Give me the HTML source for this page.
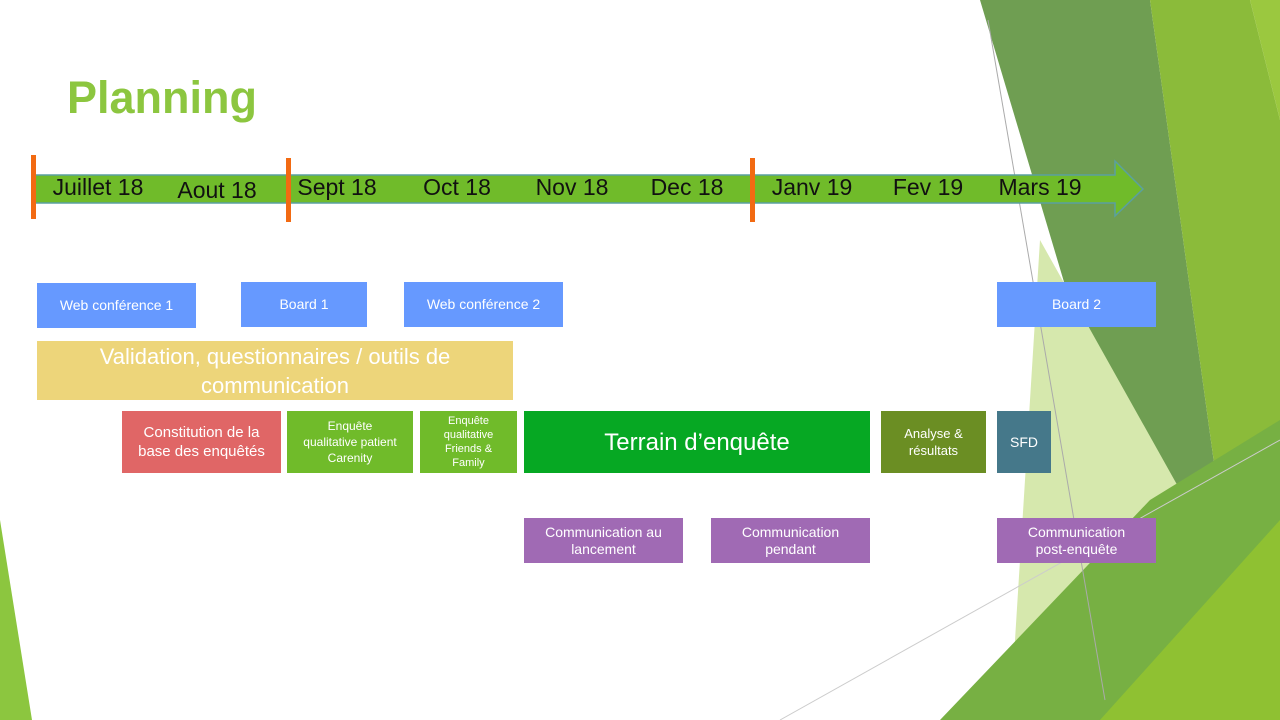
<!DOCTYPE html>
<html><head><meta charset="utf-8"><style>
body{margin:0;width:1280px;height:720px;overflow:hidden;background:#fff;position:relative;font-family:"Liberation Sans",sans-serif}
svg.bg{position:absolute;left:0;top:0}
.b{position:absolute;color:#fff;display:flex;align-items:center;justify-content:center;text-align:center;font-size:14px;line-height:17px}
.m{position:absolute;top:174px;font-family:"Liberation Sans Narrow","Liberation Sans",sans-serif;font-size:23px;color:#111;transform:translateX(-50%);white-space:nowrap}
</style></head><body>
<svg class="bg" width="1280" height="720">
<polygon points="980,0 1150,0 1215,470 1180,510 1120,470" fill="#6f9e52"/>
<polygon points="1150,0 1250,0 1280,120 1280,720 1200,720 1215,470" fill="#8bbb3a"/>
<polygon points="1250,0 1280,0 1280,120" fill="#9bc83f"/>
<polygon points="1040,240 1180,490 1060,600 980,720 1010,720" fill="#d6e8ad"/>
<polygon points="940,720 1150,500 1280,420 1280,720" fill="#77b043"/>
<polygon points="1100,720 1280,520 1280,720" fill="#8fc132"/>
<polygon points="0,520 32,720 0,720" fill="#8cc63f"/>
<line x1="988" y1="20" x2="1105" y2="700" stroke="#aaa" stroke-width="1"/>
<line x1="780" y1="720" x2="1280" y2="440" stroke="#ccc" stroke-width="1"/>
<polygon points="33,175 1115,175 1115,161 1143,189 1115,216 1115,203 33,203" fill="#70bb2a" stroke="#5aa0a0" stroke-width="1.5"/>
<rect x="31" y="155" width="5" height="64" fill="#f26a12"/>
<rect x="286" y="158" width="5" height="64" fill="#f26a12"/>
<rect x="750" y="158" width="5" height="64" fill="#f26a12"/>
</svg>
<div style="position:absolute;left:67px;top:72px;font-size:45px;font-weight:bold;color:#8cc63f">Planning</div>
<div class="m" style="left:98px">Juillet 18</div>
<div class="m" style="left:217px;top:177px">Aout 18</div>
<div class="m" style="left:337px">Sept 18</div>
<div class="m" style="left:457px">Oct 18</div>
<div class="m" style="left:572px">Nov 18</div>
<div class="m" style="left:687px">Dec 18</div>
<div class="m" style="left:812px">Janv 19</div>
<div class="m" style="left:928px">Fev 19</div>
<div class="m" style="left:1040px">Mars 19</div>

<div class="b" style="left:37px;top:283px;width:159px;height:45px;background:#6699ff">Web conférence 1</div>
<div class="b" style="left:241px;top:282px;width:126px;height:45px;background:#6699ff">Board 1</div>
<div class="b" style="left:404px;top:282px;width:159px;height:45px;background:#6699ff">Web conférence 2</div>
<div class="b" style="left:997px;top:282px;width:159px;height:45px;background:#6699ff">Board 2</div>
<div class="b" style="left:37px;top:341px;width:476px;height:59px;background:#edd57a;font-size:22px;line-height:29px">Validation, questionnaires / outils de<br>communication</div>
<div class="b" style="left:122px;top:411px;width:159px;height:62px;background:#e06666;font-size:15px;line-height:19px">Constitution de la<br>base des enquêtés</div>
<div class="b" style="left:287px;top:411px;width:126px;height:62px;background:#70bb2a;font-size:12px;line-height:16px">Enquête<br>qualitative patient<br>Carenity</div>
<div class="b" style="left:420px;top:411px;width:97px;height:62px;background:#70bb2a;font-size:11px;line-height:14px">Enquête<br>qualitative<br>Friends &amp;<br>Family</div>
<div class="b" style="left:524px;top:411px;width:346px;height:62px;background:#06a823;font-size:24px">Terrain d’enquête</div>
<div class="b" style="left:881px;top:411px;width:105px;height:62px;background:#6b8e23;font-size:13px;line-height:17px">Analyse &amp;<br>résultats</div>
<div class="b" style="left:997px;top:411px;width:54px;height:62px;background:#45788a">SFD</div>
<div class="b" style="left:524px;top:518px;width:159px;height:45px;background:#a06ab4">Communication au<br>lancement</div>
<div class="b" style="left:711px;top:518px;width:159px;height:45px;background:#a06ab4">Communication<br>pendant</div>
<div class="b" style="left:997px;top:518px;width:159px;height:45px;background:#a06ab4">Communication<br>post-enquête</div>
</body></html>
